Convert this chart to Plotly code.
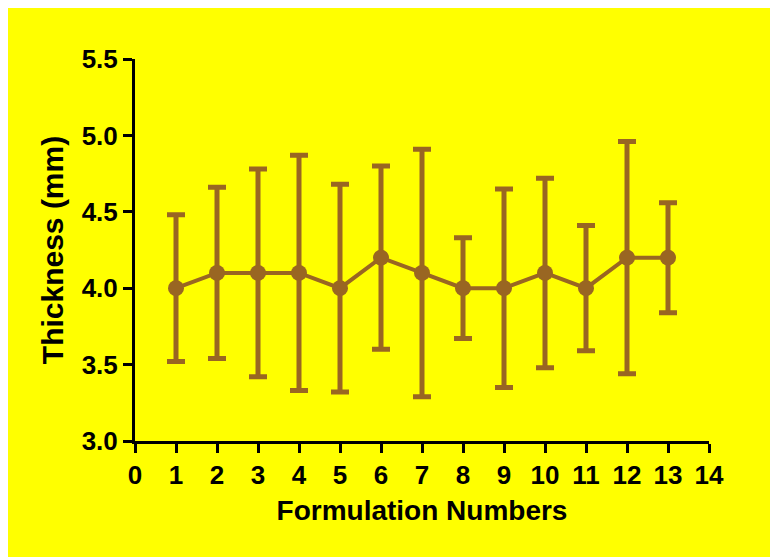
import plotly.graph_objects as go

formulation = [1, 2, 3, 4, 5, 6, 7, 8, 9, 10, 11, 12, 13]
thickness = [4.0, 4.1, 4.1, 4.1, 4.0, 4.2, 4.1, 4.0, 4.0, 4.1, 4.0, 4.2, 4.2]
sd = [0.48, 0.56, 0.68, 0.77, 0.68, 0.60, 0.81, 0.33, 0.65, 0.62, 0.41, 0.76, 0.36]
x_ticks = list(range(0, 15))
y_ticks = [3.0, 3.5, 4.0, 4.5, 5.0, 5.5]

color = "#996622"
font_family = "Liberation Sans, Arial, sans-serif"

fig = go.Figure()
fig.add_trace(go.Scatter(
    x=formulation, y=thickness,
    mode="lines+markers",
    line=dict(color=color, width=4),
    marker=dict(color=color, size=16),
    error_y=dict(type="data", array=sd, visible=True, color=color, thickness=5, width=9),
    showlegend=False,
))

# page body adds an 8px offset; figure placed so the plot area matches the reference
W, H = 770, 549
ml, mt = 127, 51
pw, ph = 574, 382
mr, mb = W - ml - pw, H - mt - ph

axis_common = dict(
    showgrid=False, zeroline=False, showline=True, linecolor="black", linewidth=3,
    ticks="outside", ticklen=9, tickwidth=3, tickcolor="black",
    tickfont=dict(family=font_family, size=26, color="black", weight="bold"),
)

fig.update_layout(
    width=W, height=H,
    margin=dict(l=ml, r=mr, t=mt, b=mb),
    paper_bgcolor="#FFFF00", plot_bgcolor="#FFFF00",
    font=dict(family=font_family),
    xaxis=dict(range=[0, 14], tickvals=x_ticks, **axis_common,
               title=dict(text="<b>Formulation Numbers</b>",
                          font=dict(family=font_family, size=28, color="black"), standoff=12)),
    yaxis=dict(range=[3.0, 5.5], tickvals=y_ticks, tickformat=".1f", **axis_common,
               title=dict(text="<b>Thickness (mm)</b>",
                          font=dict(family=font_family, size=30, color="black"), standoff=10)),
)

fig.write_html("out.html")
